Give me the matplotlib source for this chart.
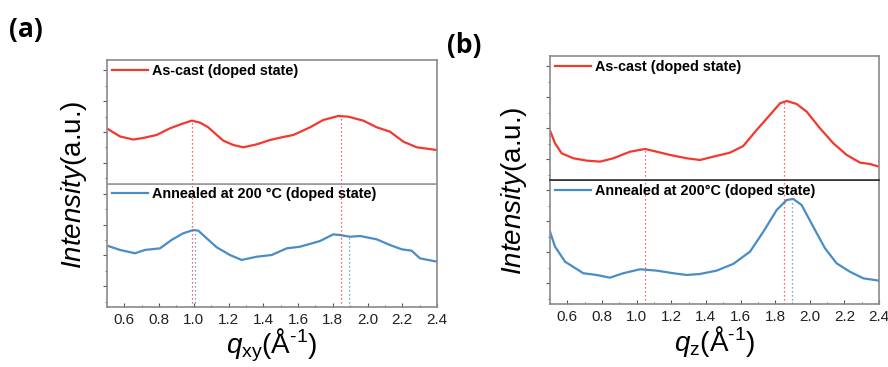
import numpy as np
import matplotlib.pyplot as plt
from matplotlib.ticker import MultipleLocator, FixedLocator

plt.rcParams['font.family'] = ['Liberation Sans', 'DejaVu Sans']
plt.rcParams['mathtext.fontset'] = 'custom'
plt.rcParams['mathtext.rm'] = 'Liberation Sans'
plt.rcParams['mathtext.it'] = 'Liberation Sans:italic'

# ---- panel (a): in-plane line cuts ----
qxy_cast = [0.507, 0.575, 0.651, 0.709, 0.786, 0.863, 0.930, 0.988, 1.035, 1.083,
            1.132, 1.170, 1.227, 1.285, 1.362, 1.438, 1.506, 1.573, 1.669, 1.745,
            1.832, 1.889, 1.976, 2.053, 2.129, 2.206, 2.283, 2.400]
int_xy_cast = [0.439, 0.381, 0.356, 0.369, 0.393, 0.447, 0.482, 0.509, 0.493, 0.455,
               0.393, 0.347, 0.312, 0.293, 0.317, 0.352, 0.374, 0.393, 0.455, 0.514,
               0.547, 0.541, 0.509, 0.455, 0.420, 0.339, 0.293, 0.271]
qxy_ann = [0.507, 0.575, 0.661, 0.719, 0.805, 0.872, 0.939, 0.997, 1.026, 1.074,
           1.132, 1.208, 1.275, 1.362, 1.448, 1.535, 1.611, 1.726, 1.803, 1.841,
           1.899, 1.957, 2.053, 2.129, 2.197, 2.254, 2.302, 2.400]
int_xy_ann = [0.494, 0.462, 0.435, 0.462, 0.475, 0.543, 0.597, 0.623, 0.618, 0.556,
              0.483, 0.421, 0.381, 0.407, 0.421, 0.475, 0.488, 0.534, 0.588, 0.583,
              0.569, 0.575, 0.548, 0.502, 0.467, 0.456, 0.394, 0.367]
peaks_xy_cast = [(0.987, 0.50), (1.845, 0.54)]
peaks_xy_ann = [(1.007, 0.61), (1.895, 0.56)]

# ---- panel (b): out-of-plane line cuts ----
qz_cast = [0.500, 0.529, 0.567, 0.635, 0.712, 0.789, 0.866, 0.962, 1.049, 1.116,
           1.193, 1.289, 1.366, 1.443, 1.539, 1.616, 1.693, 1.770, 1.828, 1.867,
           1.924, 1.982, 2.059, 2.136, 2.213, 2.290, 2.348, 2.400]
int_z_cast = [0.398, 0.296, 0.215, 0.175, 0.156, 0.148, 0.175, 0.228, 0.250, 0.228,
              0.202, 0.175, 0.161, 0.188, 0.220, 0.274, 0.403, 0.524, 0.618, 0.637,
              0.613, 0.551, 0.417, 0.296, 0.202, 0.140, 0.129, 0.107]
qz_ann = [0.500, 0.529, 0.587, 0.692, 0.769, 0.846, 0.923, 1.020, 1.116, 1.212,
          1.289, 1.366, 1.462, 1.558, 1.655, 1.732, 1.809, 1.867, 1.905, 1.953,
          2.020, 2.088, 2.155, 2.232, 2.309, 2.400]
int_z_ann = [0.583, 0.462, 0.341, 0.248, 0.234, 0.212, 0.248, 0.280, 0.269, 0.248,
             0.234, 0.242, 0.269, 0.323, 0.422, 0.583, 0.758, 0.839, 0.847, 0.798,
             0.623, 0.449, 0.328, 0.260, 0.207, 0.188]
peaks_z_cast = [(1.049, 0.24), (1.853, 0.63)]
peaks_z_ann = [(1.895, 0.84)]

xticks = [0.6, 0.8, 1.0, 1.2, 1.4, 1.6, 1.8, 2.0, 2.2, 2.4]
label_cast = 'As-cast (doped state)'
label_ann_a = 'Annealed at 200 \u00b0C (doped state)'
label_ann_b = 'Annealed at 200\u00b0C (doped state)'

RED = '#f3382e'
BLUE = '#4a8cc6'
FRAME = '#8a8a8a'
DOTS = (0, (1, 2.2))


def style_axes(ax):
  ax.set_xlim(0.5, 2.4)
  ax.set_ylim(0, 1)
  for side in ax.spines.values():
    side.set_color(FRAME)
    side.set_linewidth(1.2)
  ax.yaxis.set_major_locator(FixedLocator([0.167, 0.417, 0.667, 0.917]))
  ax.yaxis.set_minor_locator(FixedLocator([0.042, 0.292, 0.542, 0.792]))
  ax.tick_params(axis='y', which='major', direction='out', length=3, width=0.8,
                 color='#555555', labelleft=False)
  ax.tick_params(axis='y', which='minor', direction='out', length=1.5, width=0.6,
                 color='#555555')


def draw_panel(rect, q_top, y_top, q_bot, y_bot, pk_top, pk_bot, lab_bot,
               xlabel, divider_color):
  left, bottom, width, height = rect
  ax_b = fig.add_axes([left, bottom, width, height])
  ax_t = fig.add_axes([left, bottom + height, width, height])
  style_axes(ax_t)
  style_axes(ax_b)
  ax_t.spines['bottom'].set_color(divider_color)
  ax_b.spines['top'].set_color(divider_color)

  ax_t.plot(q_top, y_top, color=RED, lw=1.6, label=label_cast)
  ax_b.plot(q_bot, y_bot, color=BLUE, lw=1.6, label=lab_bot)

  for x, pk in pk_top:
    ax_t.vlines(x, 0, pk, colors=RED, linestyles=DOTS, lw=0.9)
    ax_b.vlines(x, 0, 1, colors=RED, linestyles=DOTS, lw=0.9)
  for x, pk in pk_bot:
    ax_b.vlines(x, 0, pk, colors=BLUE, linestyles=DOTS, lw=0.9)

  ax_t.tick_params(axis='x', which='both', bottom=False, labelbottom=False)
  ax_b.xaxis.set_major_locator(FixedLocator(xticks))
  ax_b.xaxis.set_minor_locator(MultipleLocator(0.1))
  ax_b.set_xticklabels(['%.1f' % t for t in xticks])
  ax_b.tick_params(axis='x', which='major', direction='in', length=3, width=0.8,
                   color='#555555', labelsize=11, labelcolor='#222222', pad=4)
  ax_b.tick_params(axis='x', which='minor', direction='in', length=1.5, width=0.6,
                   color='#555555')
  ax_b.set_xlabel(xlabel, fontsize=20, labelpad=0)

  for ax in (ax_t, ax_b):
    ax.legend(loc='upper left', bbox_to_anchor=(-0.012, 1.04), frameon=False,
              handlelength=2.5, handletextpad=0.3, borderaxespad=0.2,
              prop={'weight': 'bold', 'size': 10.4})
  return ax_t, ax_b


fig = plt.figure(figsize=(8.88, 3.67), dpi=100)

draw_panel([0.1205, 0.1635, 0.3716, 0.3365], qxy_cast, int_xy_cast,
           qxy_ann, int_xy_ann, peaks_xy_cast, peaks_xy_ann, label_ann_a,
           '$q_{\\mathrm{xy}}$(\u00c5$^{\\mathrm{\u2010}1}$)', '#9a9a9a')
draw_panel([0.6194, 0.1717, 0.3705, 0.3379], qz_cast, int_z_cast,
           qz_ann, int_z_ann, peaks_z_cast, peaks_z_ann, label_ann_b,
           '$q_{\\mathrm{z}}$(\u00c5$^{\\mathrm{\u2010}1}$)', '#333333')

ylab = r'$\mathit{Intensity}$(a.u.)'
fig.text(74 / 888, 1 - 185 / 367, ylab, rotation=90, fontsize=20,
         ha='center', va='center')
fig.text(514 / 888, 1 - 191 / 367, ylab, rotation=90, fontsize=20,
         ha='center', va='center')

fig.text(9 / 888, 1 - 30 / 367, '(a)', fontsize=19, fontweight='bold',
         family='Open Sans', va='center', ha='left')
fig.text(447 / 888, 1 - 46 / 367, '(b)', fontsize=19, fontweight='bold',
         family='Open Sans', va='center', ha='left')

fig.savefig('out.png', dpi=100)
